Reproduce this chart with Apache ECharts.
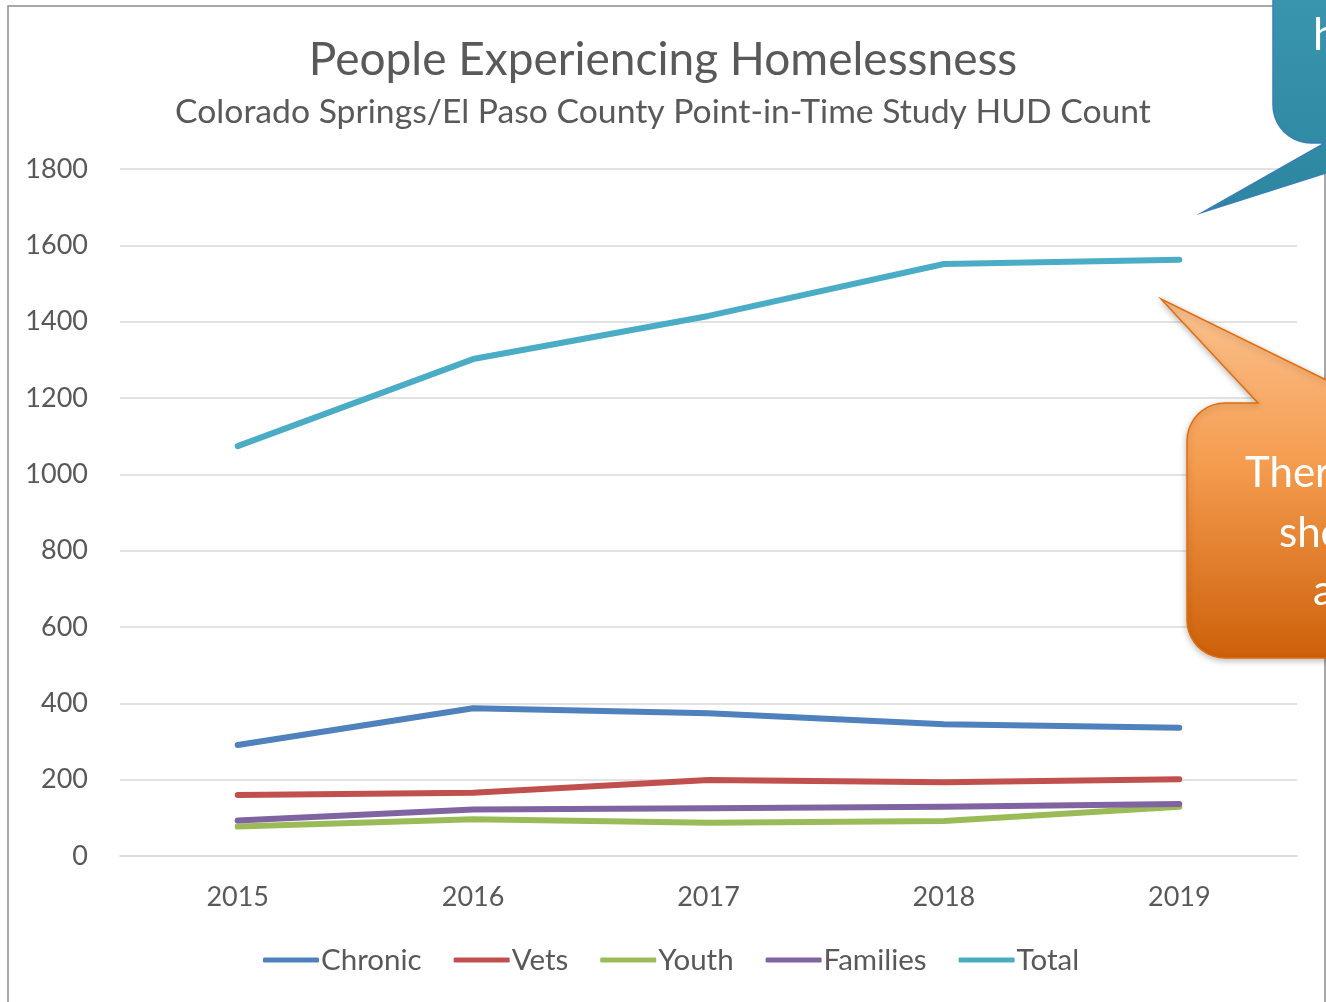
<!DOCTYPE html>
<html><head><meta charset="utf-8">
<script src="https://cdn.jsdelivr.net/npm/echarts@6/dist/echarts.min.js"></script>
<style>html,body{margin:0;padding:0;background:#fff}#c{width:1326px;height:1002px}</style>
</head><body><div id="c"></div>
<script>
const years = ['2015','2016','2017','2018','2019'];
const chronic = [291, 387, 374, 345, 336];
const vets = [160, 166, 199, 193, 201];
const youth = [77, 96, 87, 92, 129];
const families = [93, 122, 125, 129, 136];
const total = [1074, 1302, 1415, 1551, 1562];
const seriesNames = ['Chronic','Vets','Youth','Families','Total'];
const seriesColors = ['#4F81BD','#C0504D','#9BBB59','#8064A2','#4BACC6'];
const yTicks = {min:0, max:1800, interval:200};

const FONT = 'Lato';
function vgrad(stops){return {type:'linear',x:0,y:0,x2:0,y2:1,colorStops:stops};}
function arc(cx,cy,r,a0,a1){
  const pts=[];const n=10;
  for(let k=0;k<=n;k++){const a=(a0+(a1-a0)*k/n)*Math.PI/180;pts.push([cx+r*Math.cos(a),cy+r*Math.sin(a)]);}
  return pts;
}
const orangeShape = [[1225,403],[1258,403],[1161,299],[1373,403],[1460,403],[1460,658],[1225,658]]
  .concat(arc(1225,620,38,90,180)).concat([[1187,441]]).concat(arc(1225,441,38,180,270));
const tealShape = [[1273,-60],[1460,-60],[1460,143],[1421,143],[1203,212],[1325,143],[1311,143]]
  .concat(arc(1311,105,38,90,180));

const chart = echarts.init(document.getElementById('c'));
const data = [chronic, vets, youth, families, total];
chart.setOption({
  animation:false,
  backgroundColor:'#fff',
  title:{
    text:'People Experiencing Homelessness',
    subtext:'Colorado Springs/El Paso County Point-in-Time Study HUD Count',
    left:'center', top:32, itemGap:12,
    textStyle:{fontFamily:FONT,fontSize:46,fontWeight:'normal',color:'#595959'},
    subtextStyle:{fontFamily:FONT,fontSize:33.7,color:'#595959'}
  },
  grid:{left:120,right:29,top:169,bottom:146},
  legend:{
    bottom:22, left:258,
    data:seriesNames,
    icon:'roundRect', itemWidth:56, itemHeight:5, itemGap:32,
    textStyle:{fontFamily:FONT,fontSize:29.5,color:'#595959',padding:[0,0,0,-3]}
  },
  xAxis:{
    type:'category', data:years, boundaryGap:true,
    axisLine:{lineStyle:{color:'#D9D9D9',width:1.5}},
    axisTick:{show:false},
    axisLabel:{fontFamily:FONT,fontSize:27,color:'#595959',margin:28}
  },
  yAxis:{
    type:'value', min:yTicks.min, max:yTicks.max, interval:yTicks.interval,
    axisLine:{show:false}, axisTick:{show:false},
    splitLine:{lineStyle:{color:'#D9D9D9',width:1.5}},
    axisLabel:{fontFamily:FONT,fontSize:27,color:'#595959',margin:32,formatter:v=>String(v)}
  },
  series: seriesNames.map((n,i)=>({
    name:n, type:'line', data:data[i], showSymbol:false, symbol:'none',
    color:seriesColors[i],
    lineStyle:{width:6,color:seriesColors[i],cap:'round',join:'round'}
  })),
  graphic:[
    {type:'rect', z:-1, silent:true, shape:{x:8,y:6,width:1317,height:1010},
     style:{fill:'none',stroke:'#8C8C8C',lineWidth:1.5}},
    {type:'polygon', z:100, silent:true,
     shape:{points:tealShape},
     style:{fill:vgrad([{offset:0,color:'#3C98B1'},{offset:1,color:'#2D86A0'}]),
            stroke:'#3A7DB8',lineWidth:1.5}},
    {type:'text', z:101, silent:true, left:1313, top:14,
     style:{text:'how',fontFamily:FONT,fontSize:44,fill:'#FFFFFF'}},
    {type:'polygon', z:100, silent:true,
     shape:{points:orangeShape},
     style:{fill:vgrad([{offset:0,color:'#FAC290'},{offset:0.45,color:'#F59D50'},{offset:1,color:'#CD600A'}]),
            stroke:'#E46C0A',lineWidth:1.5,
            shadowBlur:6,shadowColor:'rgba(0,0,0,0.25)',shadowOffsetY:2}},
    {type:'text', z:101, silent:true, left:1245, top:452,
     style:{text:'There',fontFamily:FONT,fontSize:42,fill:'#FFFFFF'}},
    {type:'text', z:101, silent:true, left:1279, top:512,
     style:{text:'should',fontFamily:FONT,fontSize:42,fill:'#FFFFFF'}},
    {type:'text', z:101, silent:true, left:1313, top:570,
     style:{text:'also',fontFamily:FONT,fontSize:42,fill:'#FFFFFF'}}
  ]
});
</script></body></html>
